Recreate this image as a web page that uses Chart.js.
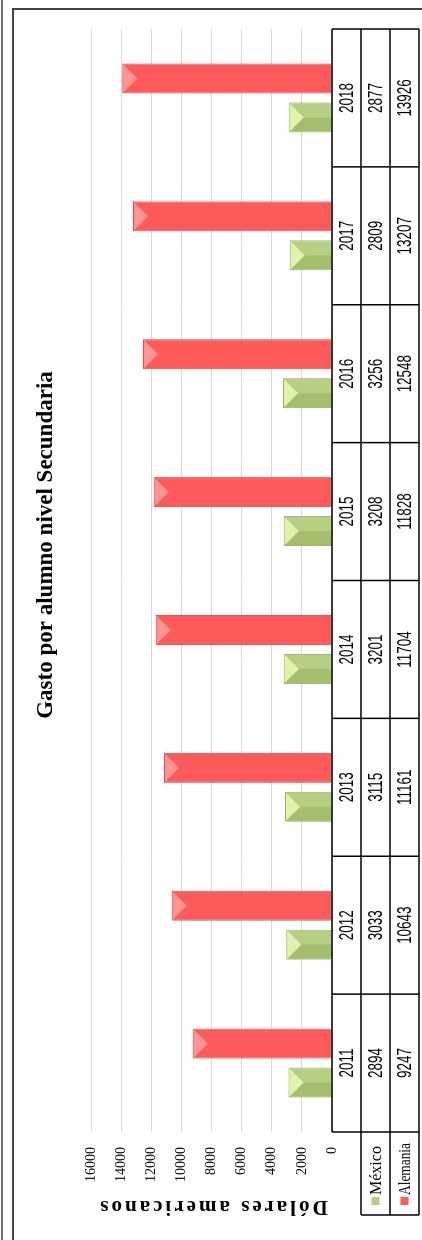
<!DOCTYPE html>
<html>
<head>
<meta charset="utf-8">
<script src="https://cdn.jsdelivr.net/npm/chart.js@4.4.0/dist/chart.umd.min.js"></script>
<style>
html, body { margin: 0; padding: 0; background: #fff; overflow: hidden; }
#page { position: relative; width: 422px; height: 1240px; overflow: hidden; }
/* chart is drawn landscape, then turned a quarter to the left like the reference */
#rot { position: absolute; left: 0; top: 0; width: 1240px; height: 422px;
       transform-origin: 0 0; transform: translate(0, 1240px) rotate(-90deg); }
</style>
</head>
<body>
<div id="page"><div id="rot"><canvas id="myChart" width="1240" height="422"></canvas></div></div>
<script>
const years = ['2011', '2012', '2013', '2014', '2015', '2016', '2017', '2018']
const mexico = [2894, 3033, 3115, 3201, 3208, 3256, 2809, 2877]
const alemania = [9247, 10643, 11161, 11704, 11828, 12548, 13207, 13926]
const seriesNames = ['México', 'Alemania']
const yMin = 0
const yMax = 16000
const yStep = 2000
const chartTitle = 'Gasto por alumno nivel Secundaria'
const axisTitle = 'Dólares americanos'

const colors = {
    mexico: '#b6cf82', mexicoLight: '#e1f1ae', mexicoDark: '#a3be6c', mexicoBorder: '#97b264',
    alemania: '#fd5b5b', alemaniaLight: '#ff9494', alemaniaBorder: '#e64b4b'
}

function line(ctx, x1, y1, x2, y2) {
    ctx.beginPath()
    ctx.moveTo(x1, y1)
    ctx.lineTo(x2, y2)
    ctx.stroke()
}

// condensed text for the data table
function narrowText(ctx, text, cx, cy, squeeze) {
    ctx.save()
    ctx.translate(cx, cy)
    ctx.scale(squeeze, 1)
    ctx.fillText(text, 0, 0)
    ctx.restore()
}

const tablePlugin = {
    id: 'tablePlugin',
    afterDatasetsDraw(chart) {
        // pyramid-like shading at the bar ends
        const ctx = chart.ctx
        chart.data.datasets.forEach((ds, di) => {
            const meta = chart.getDatasetMeta(di)
            meta.data.forEach(bar => {
                const w = bar.width
                const l = bar.x - w / 2, r = bar.x + w / 2
                const len = bar.base - bar.y
                const h = Math.min(w / 2, len / 2)
                ctx.save()
                if (di === 0) {
                    ctx.fillStyle = colors.mexicoDark
                    ctx.beginPath()
                    ctx.moveTo(l + 1, bar.y + 1)
                    ctx.lineTo(bar.x, bar.y + h)
                    ctx.lineTo(bar.x, bar.base)
                    ctx.lineTo(l + 1, bar.base)
                    ctx.closePath()
                    ctx.fill()
                    ctx.fillStyle = colors.mexicoLight
                } else {
                    ctx.fillStyle = colors.alemaniaLight
                }
                ctx.beginPath()
                ctx.moveTo(l + 1, bar.y + 1)
                ctx.lineTo(r - 1, bar.y + 1)
                ctx.lineTo(bar.x, bar.y + h)
                ctx.closePath()
                ctx.fill()
                ctx.restore()
            })
        })
    },
    afterDraw(chart) {
        const ctx = chart.ctx
        const xs = chart.scales.x
        const ca = chart.chartArea
        const rowH = 29
        const rows = [ca.bottom, ca.bottom + rowH, ca.bottom + 2 * rowH, ca.bottom + 3 * rowH]
        const headLeft = 25

        ctx.save()
        ctx.strokeStyle = '#000'
        ctx.lineWidth = 1.5
        line(ctx, ca.left, rows[0], ca.right, rows[0])
        for (let r = 1; r < 4; r++) line(ctx, headLeft, rows[r], ca.right, rows[r])
        for (let i = 0; i <= years.length; i++) {
            const bx = xs.getPixelForValue(i - 0.5)
            line(ctx, bx, rows[0], bx, rows[3])
        }
        line(ctx, headLeft, rows[1], headLeft, rows[3])

        ctx.fillStyle = '#000'
        ctx.textAlign = 'center'
        ctx.textBaseline = 'middle'
        ctx.font = '21px "Liberation Sans"'
        years.forEach((y, i) => {
            const cx = xs.getPixelForValue(i)
            narrowText(ctx, y, cx, rows[0] + rowH / 2 + 1, 0.64)
            narrowText(ctx, String(mexico[i]), cx, rows[1] + rowH / 2 + 1, 0.64)
            narrowText(ctx, String(alemania[i]), cx, rows[2] + rowH / 2 + 1, 0.64)
        })

        // series keys in the table head
        const keyCols = [colors.mexico, colors.alemania]
        ctx.font = '16px "Liberation Serif"'
        ctx.textAlign = 'left'
        seriesNames.forEach((name, k) => {
            const cy = rows[k + 1] + rowH / 2
            ctx.fillStyle = keyCols[k]
            ctx.fillRect(headLeft + 10, cy - 4, 8, 8)
            ctx.fillStyle = '#000'
            ctx.fillText(name, headLeft + 20, cy + 1, 52)
        })

        // chart title
        ctx.font = 'bold 23px "Liberation Serif"'
        ctx.textAlign = 'center'
        ctx.fillText(chartTitle, 695, 46)

        // value axis title, spaced letters
        ctx.save()
        ctx.translate(34, (ca.top + ca.bottom) / 2 + 1)
        ctx.rotate(-Math.PI / 2)
        ctx.font = 'bold 21px "Liberation Serif"'
        ctx.letterSpacing = '3px'
        ctx.fillText(axisTitle, 0, 0)
        ctx.restore()

        // frame
        ctx.strokeStyle = '#6a6a6a'
        ctx.lineWidth = 2
        line(ctx, 0, 2, chart.width, 2)
        ctx.strokeStyle = '#444'
        ctx.beginPath()
        ctx.moveTo(0, 13)
        ctx.lineTo(1231, 13)
        ctx.lineTo(1231, chart.height)
        ctx.stroke()
        ctx.restore()
    }
}

const myChartRef = document.getElementById('myChart').getContext('2d')
new Chart(myChartRef, {
    type: 'bar',
    data: {
        labels: years,
        datasets: [
            {
                label: seriesNames[0],
                data: mexico,
                backgroundColor: colors.mexico,
                borderColor: colors.mexicoBorder,
                borderWidth: 1,
                borderSkipped: 'bottom'
            },
            {
                label: seriesNames[1],
                data: alemania,
                backgroundColor: colors.alemania,
                borderColor: colors.alemaniaBorder,
                borderWidth: 1,
                borderSkipped: 'bottom'
            }
        ]
    },
    options: {
        responsive: false,
        animation: false,
        devicePixelRatio: 1,
        categoryPercentage: 0.565,
        barPercentage: 0.77,
        layout: { padding: { left: 0, right: 29, top: 91, bottom: 90 } },
        plugins: {
            legend: { display: false },
            title: { display: false },
            tooltip: { enabled: false }
        },
        scales: {
            x: { display: false },
            y: {
                min: yMin,
                max: yMax,
                ticks: {
                    stepSize: yStep,
                    padding: 15,
                    color: '#000',
                    font: { family: '"Liberation Serif"', size: 14 },
                    callback: value => String(value)
                },
                grid: { color: '#d9d9d9', lineWidth: 1, drawTicks: false },
                border: { display: false },
                afterFit(scale) { scale.width = 108 }
            }
        }
    },
    plugins: [tablePlugin]
})
</script>
</body>
</html>
